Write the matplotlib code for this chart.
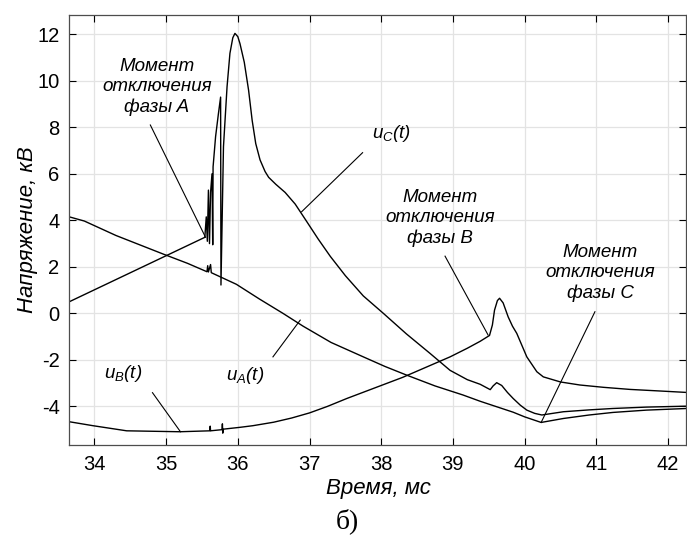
import matplotlib
matplotlib.use('Agg')
import matplotlib.pyplot as plt

plt.rcParams['font.family'] = ['Liberation Sans', 'DejaVu Sans']
plt.rcParams['mathtext.fontset'] = 'custom'
plt.rcParams['mathtext.it'] = 'Liberation Sans:italic'
plt.rcParams['mathtext.rm'] = 'Liberation Sans:italic'
plt.rcParams['axes.unicode_minus'] = False

# u_C(t)
t_c = [33.65, 35.54, 35.56, 35.575, 35.59, 35.605, 35.62, 35.64, 35.65, 35.655,
       35.69, 35.73, 35.76, 35.765, 35.80, 35.85, 35.89, 35.93, 35.96, 36.00,
       36.03, 36.09, 36.15, 36.20, 36.25, 36.31, 36.38, 36.43, 36.53, 36.66,
       36.80, 36.95, 37.12, 37.29, 37.50, 37.75, 38.03, 38.35, 38.68, 38.96,
       39.20, 39.38, 39.52, 39.56, 39.61, 39.68, 39.76, 39.84, 39.94, 40.03,
       40.14, 40.24, 40.54, 40.90, 41.23, 41.70, 42.26]
u_c = [0.50, 3.27, 4.15, 3.10, 5.30, 3.00, 5.20, 6.00, 2.95, 6.30,
       7.60, 8.60, 9.30, 1.22, 7.17, 9.75, 11.18, 11.85, 12.04, 11.90,
       11.60, 10.80, 9.60, 8.30, 7.30, 6.60, 6.10, 5.85, 5.55, 5.20,
       4.70, 4.00, 3.20, 2.45, 1.62, 0.75, 0.00, -0.88, -1.72, -2.45,
       -2.85, -3.05, -3.28, -3.12, -2.98, -3.10, -3.40, -3.66, -3.95, -4.16,
       -4.30, -4.37, -4.23, -4.15, -4.09, -4.03, -3.99]

# u_A(t)
t_a = [33.65, 33.86, 34.30, 34.96, 35.30, 35.57, 35.58, 35.59, 35.62, 35.63,
       35.98, 36.30, 36.63, 36.91, 37.30, 37.75, 38.05, 38.35, 38.75, 39.14,
       39.38, 39.84, 40.00, 40.23, 40.54, 40.90, 41.23, 41.70, 42.26]
u_a = [4.15, 3.97, 3.35, 2.55, 2.15, 1.79, 2.05, 1.78, 2.10, 1.75,
       1.25, 0.62, 0.00, -0.55, -1.25, -1.87, -2.28, -2.65, -3.12, -3.51,
       -3.78, -4.25, -4.45, -4.69, -4.52, -4.37, -4.26, -4.16, -4.09]

# u_B(t)
t_b = [33.65, 33.98, 34.45, 35.19, 35.61, 35.615, 35.62, 35.78, 35.785, 35.79,
       35.795, 36.03, 36.21, 36.50, 36.75, 37.00, 37.25, 37.52, 37.70, 38.00,
       38.30, 38.60, 38.96, 39.20, 39.38, 39.51, 39.55, 39.58, 39.62, 39.65,
       39.70, 39.77, 39.83, 39.89, 40.03, 40.17, 40.26, 40.50, 40.77, 41.10,
       41.47, 41.90, 42.26]
u_b = [-4.66, -4.83, -5.05, -5.09, -5.05, -4.85, -5.05, -5.00, -4.75, -5.15,
       -4.98, -4.90, -4.83, -4.68, -4.50, -4.28, -4.00, -3.66, -3.45, -3.10,
       -2.75, -2.35, -1.87, -1.50, -1.20, -0.95, -0.50, 0.14, 0.55, 0.65,
       0.45, -0.15, -0.55, -0.86, -1.87, -2.51, -2.73, -2.95, -3.08, -3.18,
       -3.27, -3.34, -3.40]

# annotations: text, text position, line start, line end
notes = [
    ('Момент\nотключения\nфазы A', (34.87, 9.73), (34.78, 8.10), (35.55, 3.27)),
    ('Момент\nотключения\nфазы B', (38.82, 4.10), (38.89, 2.46), (39.49, -0.93)),
    ('Момент\nотключения\nфазы C', (41.05, 1.73), (40.98, 0.07), (40.23, -4.69)),
    (r'$u_C(t)$', (38.14, 7.74), (37.74, 6.91), (36.89, 4.37)),
    (r'$u_A(t)$', (36.10, -2.65), (36.49, -1.87), (36.87, -0.29)),
    (r'$u_B(t)$', (34.40, -2.58), (34.81, -3.41), (35.20, -5.09)),
]

fig = plt.figure(figsize=(6.87, 5.36), dpi=100)
ax = fig.add_axes([69.3 / 687, 91 / 536, (686 - 69.3) / 687, 430 / 536])

ax.plot(t_c, u_c, color='k', lw=1.0)
ax.plot(t_a, u_a, color='k', lw=1.0)
ax.plot(t_b, u_b, color='k', lw=1.0)

for txt, pos, p0, p1 in notes:
    ax.plot([p0[0], p1[0]], [p0[1], p1[1]], color='k', lw=0.8)
    ax.text(pos[0], pos[1], txt, ha='center', va='center', fontsize=13.5,
            style='italic', linespacing=1.25)

ax.set_xlim(33.65, 42.25)
ax.set_ylim(-5.66, 12.83)
ax.set_xticks(range(34, 43))
ax.set_yticks(range(-4, 13, 2))
ax.grid(True, color='#e3e3e3', lw=0.9)
ax.set_axisbelow(True)
ax.tick_params(direction='in', length=5, width=0.8, labelsize=14.5, pad=7,
               top=True, right=True)
for s in ax.spines.values():
    s.set_color('0.3')
    s.set_linewidth(0.9)

ax.set_xlabel('Время, мс', fontsize=16, style='italic')
ax.xaxis.set_label_coords(0.5006, -0.077)
ax.set_ylabel('Напряжение, кВ', fontsize=16, style='italic')
ax.yaxis.set_label_coords(-0.05, 0.5)

fig.text(0.505, 0.027, 'б)', ha='center', va='center', fontsize=20,
         family=['Liberation Serif', 'DejaVu Serif'])

fig.savefig('out.png', dpi=100)
